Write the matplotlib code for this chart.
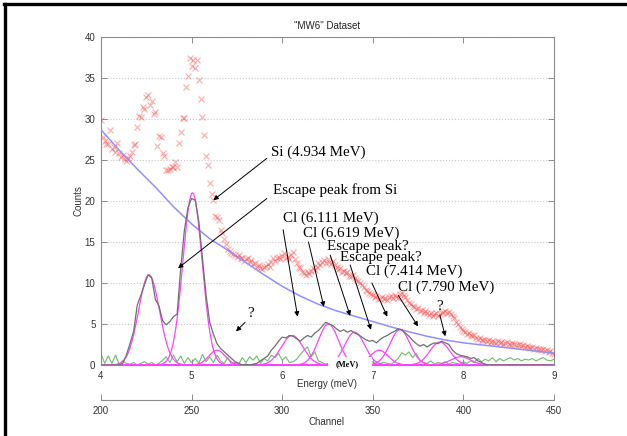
import numpy as np
import matplotlib
matplotlib.use("Agg")
import matplotlib.pyplot as plt
from matplotlib.lines import Line2D
from matplotlib.patches import Rectangle

# ---------------- data ----------------
# raw counts, one value per channel 200..450 (energy = channel/50)
raw_channels = list(range(200, 451))
raw_counts = [
    29.9, 27.8, 27.3, 26.9, 27.0, 28.7, 26.4, 26.6, 26.0, 27.1,
    25.8, 25.4, 25.6, 25.1, 24.9, 25.3, 25.5, 26.0, 26.8, 27.0,
    29.0, 30.4, 30.2, 31.5, 31.2, 32.7, 32.9, 31.7, 32.2, 30.6,
    30.8, 26.7, 27.9, 27.8, 25.9, 25.5, 23.8, 23.8, 23.9, 24.1,
    24.1, 24.7, 24.1, 27.1, 28.4, 30.1, 30.1, 33.9, 35.2, 37.4,
    36.5, 37.2, 36.2, 37.2, 34.8, 32.4, 30.2, 28.1, 25.5, 24.4,
    22.2, 20.8, 20.1, 18.2, 18.1, 17.7, 16.5, 16.1, 15.4, 14.8,
    14.2, 13.9, 13.7, 13.5, 13.4, 13.2, 13.4, 13.0, 13.1, 12.7,
    12.9, 13.1, 12.6, 12.8, 12.3, 12.5, 12.0, 12.2, 11.8, 11.7,
    11.9, 12.1, 12.3, 12.0, 12.6, 13.0, 12.7, 13.1, 13.2, 12.9,
    13.3, 13.6, 13.1, 13.2, 12.9, 13.4, 13.8, 12.9, 12.4, 12.0,
    11.8, 11.4, 11.2, 11.0, 11.3, 11.1, 11.5, 11.8, 11.6, 12.0,
    12.4, 12.2, 12.6, 12.8, 12.5, 12.9, 12.6, 12.3, 12.7, 12.2,
    11.9, 11.6, 11.8, 11.4, 11.5, 11.2, 11.3, 10.9, 10.8, 11.0,
    10.6, 10.4, 10.2, 10.0, 9.8, 9.5, 9.1, 9.0, 8.8, 8.6,
    8.5, 8.3, 8.4, 8.0, 8.1, 8.3, 8.0, 8.2, 7.9, 8.3,
    8.4, 8.2, 8.5, 8.3, 8.2, 8.6, 8.8, 8.5, 8.3, 7.9,
    7.6, 7.5, 7.2, 7.1, 6.8, 6.9, 6.6, 6.7, 6.4, 6.6,
    6.3, 6.1, 6.4, 6.0, 6.2, 6.3, 6.0, 6.2, 6.4, 6.5,
    6.6, 6.4, 6.5, 6.2, 6.0, 5.7, 5.3, 5.0, 4.6, 4.4,
    4.2, 4.0, 3.8, 3.9, 3.6, 3.5, 3.6, 3.3, 3.2, 3.3,
    3.1, 3.0, 3.1, 2.9, 3.0, 2.8, 2.9, 2.8, 2.7, 2.9,
    2.7, 2.8, 2.6, 2.7, 2.8, 2.6, 2.5, 2.7, 2.6, 2.5,
    2.4, 2.6, 2.3, 2.4, 2.2, 2.3, 2.2, 2.1, 2.2, 2.0,
    2.1, 1.9, 2.0, 1.8, 1.9, 1.7, 1.8, 1.6, 1.7, 1.5,
    1.4,
]

# fitted background, every 10 channels
bg_channels = list(range(200, 451, 10))
bg_counts = [28.7, 26.2, 23.9, 21.7, 19.3, 17.2, 15.4, 14.0, 12.5, 11.0,
             9.6, 8.4, 7.4, 6.6, 5.95, 5.3, 4.65, 4.05, 3.5, 3.05,
             2.7, 2.45, 2.2, 1.95, 1.7, 1.45]

# background-subtracted spectrum and fit residual, every 2 channels
net_channels = list(range(200, 451, 2))
net_counts = [
    0.0, 0.0, 0.0, 0.0, 0.0, 0.0, 0.2, 1.2,          # 4.00-4.28
    2.6, 4.1, 7.3, 8.5, 9.8, 11.0, 10.6, 8.0, 7.2,   # 4.32-4.64
    5.4, 4.9, 5.3, 5.9, 6.2, 11.8, 16.4, 19.2,       # 4.68-4.96
    20.3, 20.1, 17.5, 13.0, 8.5,                     # 5.00-5.16
    5.2, 3.8, 2.6, 2.0, 1.6, 1.2, 0.8, 0.4,          # 5.20-5.48
    0.2, 0.0, 0.1, 0.0, 0.1, 0.2, 0.5, 0.8,          # 5.52-5.80
    1.1, 1.8, 2.3, 2.9, 3.4, 3.3, 3.6, 3.5,          # 5.84-6.12
    3.2, 2.9, 3.3, 3.6, 3.4, 3.9, 4.2, 4.7,          # 6.16-6.44
    5.2, 5.0, 4.8, 4.4, 4.1, 4.3, 4.0, 4.2,          # 6.48-6.76
    3.9, 3.7, 3.4, 3.1, 2.9, 3.0, 2.7, 3.1,          # 6.80-7.08
    3.4, 3.6, 3.9, 4.1, 4.4, 4.3, 3.9, 3.5,          # 7.12-7.40
    3.0, 2.6, 2.3, 2.5, 2.2, 2.5, 2.7, 2.6,          # 7.44-7.72
    2.9, 2.7, 2.5, 1.8, 1.4, 1.2, 1.1, 1.0,          # 7.76-8.04
    0.8, 0.9, 0.5, 0.3, 0.1, 0.0, 0.0, 0.0,          # 8.08-8.36
    0.0, 0.0, 0.0, 0.0, 0.0, 0.0, 0.0, 0.0,          # 8.40-8.68
    0.0, 0.0, 0.0, 0.0, 0.0, 0.0, 0.0, 0.0,          # 8.72-9.00
]
resid_counts = [
    1.4, 0.2, 1.1, 0.2, 1.2, 0.1, 0.5, 0.2,
    0.1, 0.3, 0.0, 0.2, 0.4, 0.1, 0.3, 0.0, 0.2,
    0.6, 1.0, 0.3, 1.2, 0.4, 1.1, 0.2, 0.9,
    0.3, 0.8, 0.2, 1.3, 0.4,
    1.0, 0.3, 1.2, 0.5, 0.2, 0.9, 0.1, 0.3,
    0.1, 0.9, 0.3, 1.0, 0.6, 1.1, 0.2, 0.8,
    0.5, 1.2, 0.9, 1.4, 0.6, 1.0, 0.3, 0.4,
    0.7, 1.3, 1.8, 2.2, 1.0, 1.6, 0.5, 0.3,
    0.1, 0.2, 0.4, 0.1, 0.3, 0.2, 0.1, 0.3,
    0.2, 0.1, 0.3, 0.5, 0.2, 0.4, 0.1, 0.2,
    0.3, 0.2, 0.1, 0.4, 0.8, 1.5, 1.2, 1.6,
    0.9, 1.4, 0.6, 0.3, 0.2, 0.5, 0.1, 0.3,
    0.2, 0.4, 0.1, 0.3, 0.2, 0.1, 0.4, 0.2,
    0.5, 0.3, 0.8, 0.4, 0.7, 0.5, 0.9, 0.4,
    0.8, 0.5, 0.7, 0.9, 0.6, 0.8, 0.5, 0.7,
    0.6, 0.8, 0.5, 0.7, 0.9, 0.6, 0.5, 0.7,
]

# fitted Gaussian peaks (energy in MeV)
peak_centers = [4.53, 5.01, 5.28, 6.11, 6.51, 6.80, 7.07, 7.30, 7.74, 7.97]
peak_heights = [11.0, 21.0, 1.8, 3.6, 5.0, 4.0, 1.8, 4.3, 2.8, 1.0]
peak_sigmas = [0.115, 0.105, 0.09, 0.12, 0.11, 0.11, 0.10, 0.11, 0.11, 0.11]

energy_ticks = [4, 5, 6, 7, 8, 9]
count_ticks = [0, 5, 10, 15, 20, 25, 30, 35, 40]
channel_ticks = [200, 250, 300, 350, 400, 450]

# annotations: label, text anchor (E, counts), arrow tail, arrow head
annotations = [
    ("Si (4.934 MeV)", (5.88, 26.0), (5.83, 25.2), (5.24, 20.1)),
    ("Escape peak from Si", (5.90, 21.3), (5.83, 20.3), (4.85, 11.8)),
    ("Cl (6.111 MeV)", (6.005, 17.9), (6.01, 16.5), (6.17, 5.9)),
    ("Cl (6.619 MeV)", (6.23, 16.1), (6.29, 15.0), (6.46, 7.1)),
    ("Escape peak?", (6.49, 14.4), (6.53, 13.4), (6.75, 6.0)),
    ("Escape peak?", (6.64, 13.1), (6.75, 12.2), (6.98, 4.3)),
    ("Cl (7.414 MeV)", (6.93, 11.4), (6.99, 10.0), (7.16, 5.9)),
    ("Cl (7.790 MeV)", (7.28, 9.5), (7.28, 8.5), (7.50, 4.7)),
]
question_marks = [
    ((5.65, 6.3), (5.59, 5.2), (5.49, 4.1)),
    ((7.74, 7.1), (7.74, 6.1), (7.80, 3.5)),
]

# ---------------- figure ----------------
W, H = 627, 436
fig = plt.figure(figsize=(W / 100, H / 100), dpi=100)
fig.patch.set_facecolor("white")

def fx(px):
    return px / W

def fy(py):
    return 1 - py / H

sans = ["Liberation Sans", "DejaVu Sans"]
serif = ["Liberation Serif", "DejaVu Serif"]
spine_col = "#8c8c8c"

ax = fig.add_axes([fx(101), fy(365), (554 - 101) / W, (365 - 37) / H])
ax.set_xlim(4, 9)
ax.set_ylim(0, 40)

E_raw = np.array(raw_channels) / 50.0
E_bg = np.array(bg_channels) / 50.0
E_net = np.array(net_channels) / 50.0

ax.plot(E_raw, raw_counts, linestyle="none", marker="x", ms=4.2, mew=0.8,
        color="#ff3b3b", alpha=0.42, zorder=3)
ax.plot(E_bg, bg_counts, color="#9090ff", lw=1.1, zorder=4)

E_fine = np.linspace(4, 9, 1001)
for c, h, s in zip(peak_centers, peak_heights, peak_sigmas):
    ax.plot(E_fine, h * np.exp(-0.5 * ((E_fine - c) / s) ** 2),
            color="#ff44ff", lw=0.9, zorder=4)
ax.plot(E_net, resid_counts, color="#55b055", lw=0.8, alpha=0.85, zorder=3)
ax.plot(E_net, net_counts, color="#707070", lw=0.9, zorder=5)

ax.set_xticks(energy_ticks)
ax.set_yticks(count_ticks)
ax.yaxis.grid(True, linestyle=":", color="#c8c8c8", lw=0.8)
ax.set_axisbelow(True)
for sp in ax.spines.values():
    sp.set_color(spine_col)
    sp.set_linewidth(0.8)
ax.tick_params(direction="in", top=True, right=True, length=4, width=0.7,
               color=spine_col, labelsize=7, labelcolor="#333333", pad=4)
for lab in ax.get_xticklabels() + ax.get_yticklabels():
    lab.set_family(sans)

ax.set_title('"MW6" Dataset', fontsize=7, family=sans, color="#222222", pad=6)

# annotations
for label, tpos, tail, head in annotations:
    ax.text(tpos[0], tpos[1], label, family=serif, fontsize=10.8,
            ha="left", va="center", zorder=8, clip_on=False)
    ax.annotate("", xy=head, xytext=tail,
                arrowprops=dict(arrowstyle="-|>", color="black", lw=0.7,
                                mutation_scale=7, shrinkA=0, shrinkB=0),
                zorder=8)
for tpos, tail, head in question_marks:
    ax.text(tpos[0], tpos[1], "?", family=serif, fontsize=10.8,
            ha="center", va="center", zorder=8)
    ax.annotate("", xy=head, xytext=tail,
                arrowprops=dict(arrowstyle="-|>", color="black", lw=0.7,
                                mutation_scale=7, shrinkA=0, shrinkB=0),
                zorder=8)

# axis labels
fig.text(fx(78), fy(201), "Counts", rotation=90, fontsize=7, family=sans,
         color="#333333", ha="center", va="center")
fig.text(fx(327), fy(384), "Energy (meV)", fontsize=7, family=sans,
         color="#333333", ha="center", va="center")
fig.text(fx(327), fy(422), "Channel", fontsize=7, family=sans,
         color="#333333", ha="center", va="center")

# channel axis
ax2 = fig.add_axes([fx(101), fy(400), (554 - 101) / W, 0.001])
ax2.set_xlim(200, 450)
ax2.set_xticks(channel_ticks)
ax2.set_yticks([])
for k in ["top", "left", "right"]:
    ax2.spines[k].set_visible(False)
ax2.spines["bottom"].set_color(spine_col)
ax2.spines["bottom"].set_linewidth(0.8)
ax2.patch.set_alpha(0)
ax2.tick_params(axis="x", direction="in", length=4, width=0.7, color=spine_col,
                labelsize=7, labelcolor="#333333", pad=4)
for lab in ax2.get_xticklabels():
    lab.set_family(sans)

# white "(MeV)" patch over the energy axis
rect = Rectangle((fx(328), fy(373)), (372 - 328) / W, (373 - 357) / H,
                 transform=fig.transFigure, facecolor="white",
                 edgecolor="none", zorder=20)
fig.add_artist(rect)
fig.text(fx(347), fy(364), "(MeV)", fontsize=6, fontweight="bold",
         family=serif, ha="center", va="center", zorder=21)

# outer frame (left and top edges)
fig.add_artist(Line2D([fx(5), fx(5)], [0, fy(4)], transform=fig.transFigure,
                      color="black", lw=2.4, zorder=30))
fig.add_artist(Line2D([fx(4), 1], [fy(4), fy(4)], transform=fig.transFigure,
                      color="black", lw=2.4, zorder=30))

fig.savefig("out.png", dpi=100)
